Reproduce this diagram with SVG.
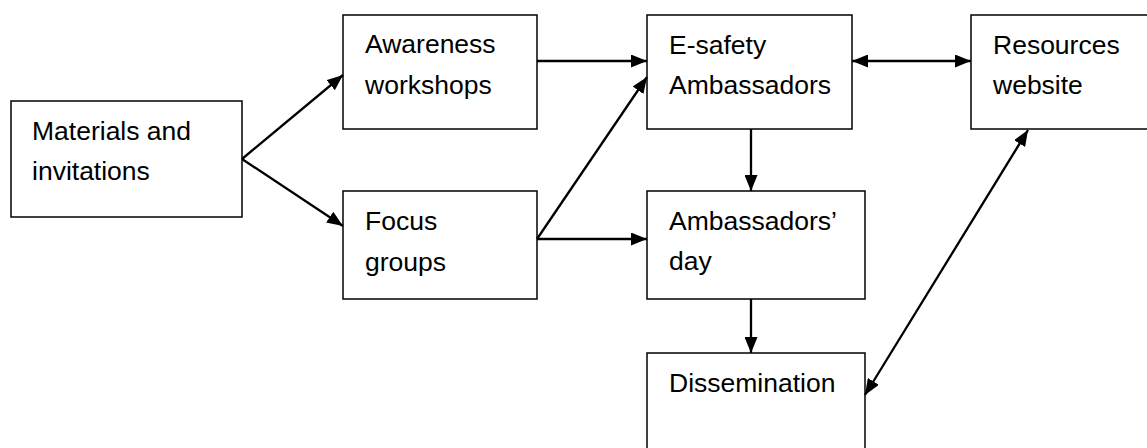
<svg xmlns="http://www.w3.org/2000/svg" width="1147" height="448" viewBox="0 0 1147 448">
<style>
.box{fill:#fff;stroke:#000;stroke-width:1.5}
.lbl{font-family:"Liberation Sans",Arial,sans-serif;font-size:26.5px;fill:#000}
.c{stroke:#000;stroke-width:2.3;fill:none}
</style>
<defs>
<marker id="ah" viewBox="0 0 16 13" refX="16" refY="6.5" markerWidth="16" markerHeight="13" markerUnits="userSpaceOnUse" orient="auto-start-reverse">
<path d="M0,0 L16,6.5 L0,13 Z" fill="#000"/>
</marker>
</defs>
<rect width="1147" height="448" fill="#fff"/>
<g id="materials"><rect class="box" x="11" y="101" width="231" height="116"/><text class="lbl" x="32" y="140">Materials and</text><text class="lbl" x="32" y="180">invitations</text></g>
<g id="awareness"><rect class="box" x="343" y="15" width="194" height="114"/><text class="lbl" x="365" y="53">Awareness</text><text class="lbl" x="365" y="94">workshops</text></g>
<g id="esafety"><rect class="box" x="647" y="15" width="205" height="114"/><text class="lbl" x="669" y="54">E-safety</text><text class="lbl" x="669" y="94">Ambassadors</text></g>
<g id="resources"><rect class="box" x="971" y="15" width="190" height="114"/><text class="lbl" x="993" y="54">Resources</text><text class="lbl" x="993" y="94">website</text></g>
<g id="focus"><rect class="box" x="343" y="191" width="194" height="108"/><text class="lbl" x="365" y="230">Focus</text><text class="lbl" x="365" y="271">groups</text></g>
<g id="ambday"><rect class="box" x="647" y="191" width="218" height="108"/><text class="lbl" x="669" y="230">Ambassadors’</text><text class="lbl" x="669" y="270">day</text></g>
<g id="dissemination"><rect class="box" x="647" y="353" width="218" height="110"/><text class="lbl" x="669" y="392">Dissemination</text></g>
<g id="connectors">
<line class="c" x1="242" y1="159" x2="343" y2="75" marker-end="url(#ah)"/>
<line class="c" x1="242" y1="159" x2="343" y2="226" marker-end="url(#ah)"/>
<line class="c" x1="537" y1="61" x2="647" y2="61" marker-end="url(#ah)"/>
<line class="c" x1="537" y1="239" x2="647" y2="77" marker-end="url(#ah)"/>
<line class="c" x1="537" y1="239" x2="647" y2="239" marker-end="url(#ah)"/>
<line class="c" x1="751" y1="129" x2="751" y2="191" marker-end="url(#ah)"/>
<line class="c" x1="751" y1="299" x2="751" y2="353" marker-end="url(#ah)"/>
<line class="c" x1="852" y1="61" x2="971" y2="61" marker-start="url(#ah)" marker-end="url(#ah)"/>
<line class="c" x1="1028" y1="130" x2="865" y2="395" marker-start="url(#ah)" marker-end="url(#ah)"/>
</g>
</svg>
